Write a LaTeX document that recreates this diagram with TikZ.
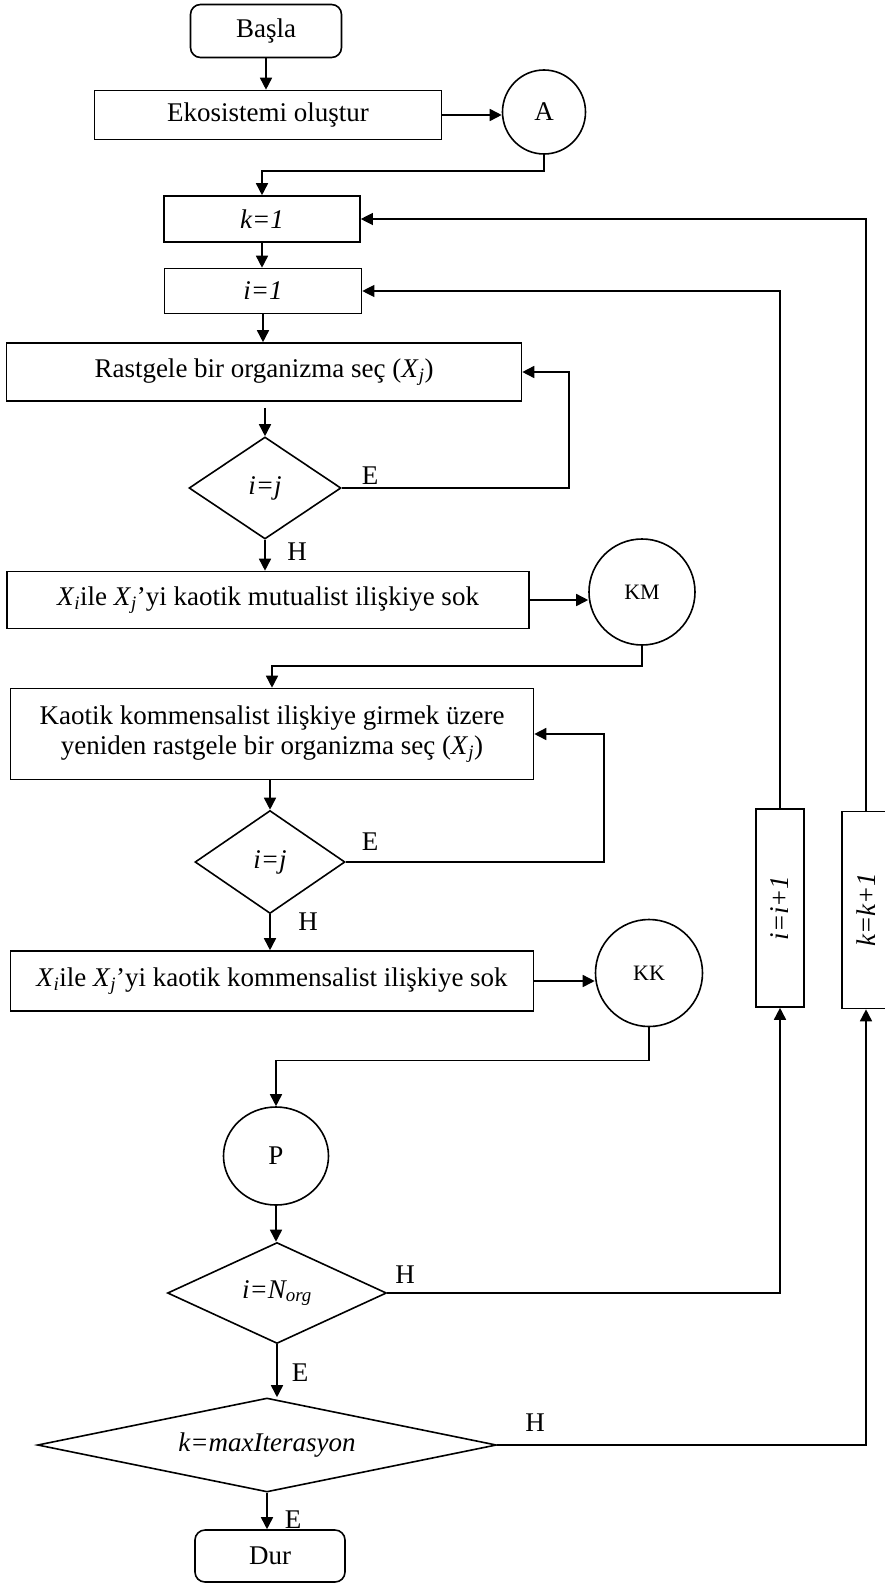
\documentclass[tikz,border=0pt]{standalone}
\usepackage{fontspec}
\usepackage{graphicx}
\setmainfont{Liberation Serif}
\usetikzlibrary{shapes.geometric,arrows.meta}
\newcommand{\Xs}[1]{\textit{X}\textsubscript{\textit{#1}}}

\begin{document}
\begin{tikzpicture}[x=1pt, y=-1pt, >={Triangle[length=12pt,width=12pt]},
  every node/.style={font=\fontsize{27}{30}\selectfont, inner sep=0pt},
  box/.style={draw, line width=1.6pt, rectangle},
  term/.style={draw, line width=1.6pt, rectangle, rounded corners=10pt},
  karar/.style={draw, line width=1.6pt, diamond},
  baglanti/.style={draw, line width=1.6pt, ellipse},
  kucuk/.style={font=\fontsize{22}{25}\selectfont},
  ok/.style={->, line width=1.6pt},
  geri/.style={->, line width=1.2pt}]
  \useasboundingbox (0,0) rectangle (884,1584);

  % Başlangıç
  \node[term, minimum width=151pt, minimum height=53pt] (basla) at (266,31) {Başla};
  \node[box, minimum width=347pt, minimum height=49pt] (ekosis) at (268,115)
    {Ekosistemi oluştur};
  \node[baglanti, minimum width=83pt, minimum height=84pt] (A) at (544,112) {A};
  \node[box, minimum width=196pt, minimum height=46pt] (k1) at (262,219) {\textit{k=1}};
  \node[box, minimum width=197pt, minimum height=45pt] (i1) at (263,291) {\textit{i=1}};

  % Mutualist ilişki
  \node[box, minimum width=515pt, minimum height=58pt] (rast) at (264,372)
    {Rastgele bir organizma seç (\Xs{j})};
  \node[karar, minimum width=152pt, minimum height=102pt, shape aspect=1.5] (d1)
    at (265,488) {\textit{i=j}};
  \node[box, minimum width=522pt, minimum height=57pt] (mut) at (268,600)
    {\Xs{i}ile \Xs{j}’yi kaotik mutualist ilişkiye sok};
  \node[baglanti, kucuk, minimum size=106pt] (KM) at (642,592) {KM};

  % Kommensalist ilişki
  \node[box, align=center, minimum width=523pt, minimum height=91pt] (kaotik) at (272,734)
    {Kaotik kommensalist ilişkiye girmek üzere\\yeniden rastgele bir organizma seç (\Xs{j})};
  \node[karar, minimum width=150pt, minimum height=103pt, shape aspect=1.5] (d2)
    at (270,862) {\textit{i=j}};
  \node[box, minimum width=523pt, minimum height=60pt] (kom) at (272,981)
    {\Xs{i}ile \Xs{j}’yi kaotik kommensalist ilişkiye sok};
  \node[baglanti, kucuk, minimum size=107pt] (KK) at (649,973) {KK};

  % Parazit ve durma
  \node[baglanti, minimum width=105pt, minimum height=98pt] (P) at (276,1156) {P};
  \node[karar, minimum width=219pt, minimum height=101pt, shape aspect=2.2] (norg)
    at (277,1293) {\textit{i=N\textsubscript{org}}};
  \node[karar, minimum width=459pt, minimum height=94pt, shape aspect=4.9] (kmax)
    at (267,1445) {\textit{k=maxIterasyon}};
  \node[term, minimum width=150pt, minimum height=52pt] (dur) at (270,1556) {Dur};

  % Sayaçlar
  \node[box, minimum width=48pt, minimum height=198pt] (ii) at (780,908)
    {\rotatebox{90}{\textit{i=i+1}}};
  \node[box, minimum width=48pt, minimum height=197pt] (kk) at (866,910)
    {\rotatebox{90}{\textit{k=k+1}}};

  % Etiketler
  \node (e1) at (370,476) {E};
  \node (h1) at (297,552) {H};
  \node (e2) at (370,842) {E};
  \node (h2) at (308,922) {H};
  \node (h3) at (405,1275) {H};
  \node (e3) at (300,1373) {E};
  \node (h4) at (535,1423) {H};
  \node (e4) at (293,1520) {E};

  % Oklar
  \draw[ok] (basla.south) -- (basla.south |- ekosis.north);
  \draw[ok] (ekosis.east) -- (ekosis.east -| A.west);
  \draw[ok] (A.south) -- ++(0,16) -| (k1.north);
  \draw[ok] (k1.south) -- (k1.south |- i1.north);
  \draw[ok] (i1.south) -- (i1.south |- rast.north);
  \draw[ok] (rast.south -| d1.north) ++(0,6) -- (d1.north);
  \draw[ok] (d1.east) -- ++(227,0) |- (rast.east);
  \draw[ok] (d1.south) -- (d1.south |- mut.north);
  \draw[ok] (mut.east) -- (mut.east -| KM.west);
  \draw[ok] (KM.south) -- ++(0,20) -| (kaotik.north);
  \draw[ok] (kaotik.south -| d2.north) -- (d2.north);
  \draw[ok] (d2.east) -- ++(258,0) |- (kaotik.east);
  \draw[ok] (d2.south) -- (d2.south |- kom.north);
  \draw[ok] (kom.east) -- (kom.east -| KK.west);
  \draw[ok] (KK.south) -- ++(0,33) -| (P.north);
  \draw[ok] (P.south) -- (P.south |- norg.north);
  \draw[ok] (norg.east) -| (ii.south);
  \draw[ok] (norg.south) -- (norg.south |- kmax.north);
  \draw[ok] (kmax.east) -| (kk.south);
  \draw[ok] (kmax.south) -- (kmax.south |- dur.north);
  \draw[geri] (ii.north) |- (i1.east);
  \draw[geri] (kk.north) |- (k1.east);
\end{tikzpicture}
\end{document}
